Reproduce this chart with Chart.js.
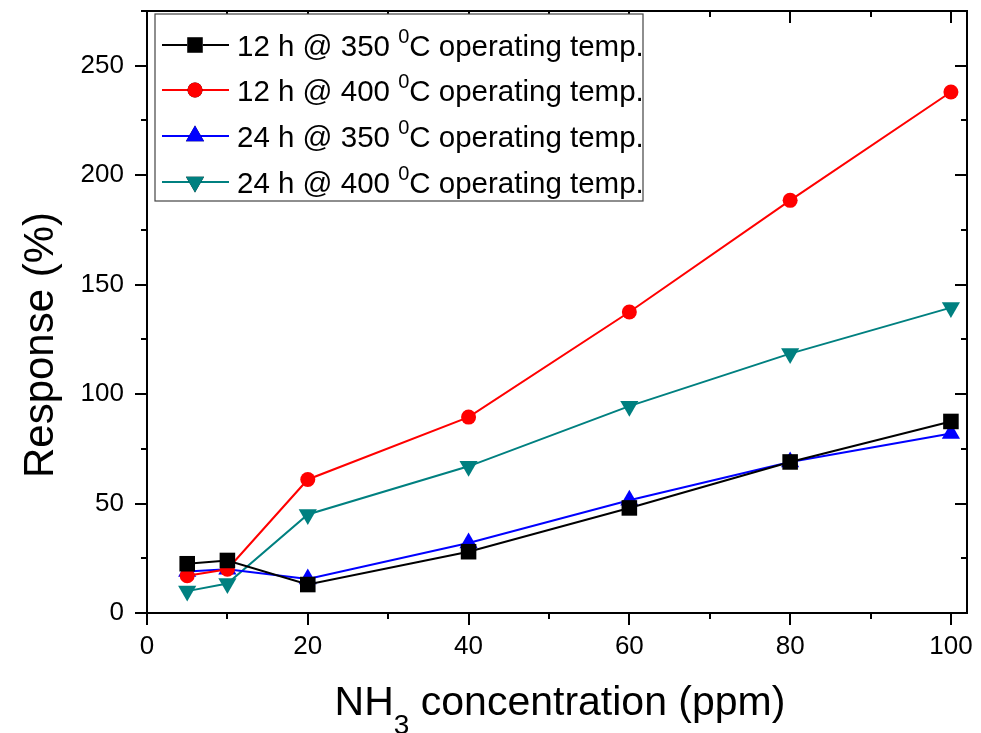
<!DOCTYPE html>
<html>
<head>
<meta charset="utf-8">
<script src="https://cdn.jsdelivr.net/npm/chart.js@4.4.1/dist/chart.umd.min.js"></script>
<style>
  html, body { margin: 0; padding: 0; background: #fff; }
  #wrap { width: 981px; height: 733px; position: relative; }
</style>
</head>
<body>
<div id="wrap"><canvas id="chart" width="981" height="733"></canvas></div>
<script>
// dados
const concentracao = [5, 10, 20, 40, 60, 80, 100];
const h12_350 = [22.5, 24, 13, 28, 48, 69, 87.5];
const h12_400 = [17, 20, 61, 89.5, 137.5, 188.5, 238];
const h24_350 = [19, 20, 15.5, 32, 51.5, 69, 82];
const h24_400 = [10, 13.5, 45, 67, 94.5, 118.5, 139.5];

const xTicks = [0, 20, 40, 60, 80, 100];
const yTicks = [0, 50, 100, 150, 200, 250];
const legendLabels = [
    ['12 h @ 350 ', '0', 'C operating temp.'],
    ['12 h @ 400 ', '0', 'C operating temp.'],
    ['24 h @ 350 ', '0', 'C operating temp.'],
    ['24 h @ 400 ', '0', 'C operating temp.']
];

const FONT = '"Liberation Sans", Arial, sans-serif';

function pontos(valores) {
    return concentracao.map((x, i) => ({ x: x, y: valores[i] }));
}

function serie(valores, cor, estilo, raio, rot) {
    return {
        data: pontos(valores),
        borderColor: cor,
        backgroundColor: cor,
        borderWidth: 2,
        pointStyle: estilo,
        pointRadius: raio,
        pointHoverRadius: raio,
        pointRotation: rot || 0,
        pointBorderWidth: 0,
        tension: 0
    };
}

const datasets = [
    serie(h12_350, '#000000', 'rect', 11),
    serie(h12_400, '#ff0000', 'circle', 7.5),
    serie(h24_350, '#0000ff', 'triangle', 10.5),
    serie(h24_400, '#008080', 'triangle', 10.5, 180)
];

// moldura, ticks e textos extra
const moldura = {
    id: 'moldura',
    afterDraw(chart) {
        const ctx = chart.ctx;
        const a = chart.chartArea;
        const xs = chart.scales.x, ys = chart.scales.y;
        ctx.save();
        ctx.strokeStyle = '#000';
        ctx.lineWidth = 2;
        ctx.strokeRect(a.left, a.top, a.right - a.left, a.bottom - a.top);

        ctx.beginPath();
        for (let v = 0; v <= 100; v += 10) {
            const px = Math.round(xs.getPixelForValue(v));
            const len = v % 20 === 0 ? 12 : 6;
            ctx.moveTo(px, a.bottom); ctx.lineTo(px, a.bottom + len);
            ctx.moveTo(px, a.top); ctx.lineTo(px, a.top + len);
        }
        for (let v = 0; v <= 275; v += 25) {
            const py = Math.round(ys.getPixelForValue(v));
            const len = v % 50 === 0 ? 12 : 6;
            ctx.moveTo(a.left, py); ctx.lineTo(a.left - len, py);
            ctx.moveTo(a.right, py); ctx.lineTo(a.right - len, py);
        }
        ctx.stroke();

        // titulo eixo x com subscrito
        ctx.fillStyle = '#000';
        ctx.textBaseline = 'alphabetic';
        const big = '41px ' + FONT, small = '28px ' + FONT;
        ctx.font = big;
        const w1 = ctx.measureText('NH').width;
        const w3 = ctx.measureText(' concentration (ppm)').width;
        ctx.font = small;
        const w2 = ctx.measureText('3').width;
        let x0 = 560 - (w1 + w2 + w3) / 2;
        const by = 715;
        ctx.font = big; ctx.fillText('NH', x0, by);
        ctx.font = small; ctx.fillText('3', x0 + w1, by + 19);
        ctx.font = big; ctx.fillText(' concentration (ppm)', x0 + w1 + w2, by);

        // titulo eixo y
        ctx.save();
        ctx.translate(53, 345);
        ctx.rotate(-Math.PI / 2);
        ctx.font = '42px ' + FONT;
        ctx.textAlign = 'center';
        ctx.fillText('Response (%)', 0, 0);
        ctx.restore();

        // legenda
        const lx = 155, ly = 14, lw = 488, lh = 187;
        ctx.lineWidth = 1.2;
        ctx.strokeStyle = '#444';
        ctx.fillStyle = '#fff';
        ctx.fillRect(lx, ly, lw, lh);
        ctx.strokeRect(lx, ly, lw, lh);
        const rows = [45, 90, 136, 182];
        chart.data.datasets.forEach((ds, i) => {
            const cy = rows[i];
            ctx.strokeStyle = ds.borderColor;
            ctx.lineWidth = 2;
            ctx.beginPath();
            ctx.moveTo(162, cy); ctx.lineTo(229, cy);
            ctx.stroke();
            Chart.helpers.drawPoint(ctx, {
                pointStyle: ds.pointStyle,
                radius: ds.pointRadius,
                rotation: ds.pointRotation,
                borderWidth: 0
            }, 195, cy);
            ctx.fillStyle = ds.backgroundColor;
            ctx.fill();
            const p = legendLabels[i];
            ctx.fillStyle = '#000';
            const f1 = '29.5px ' + FONT, f2 = '20px ' + FONT;
            let tx = 237;
            const base = cy + 11;
            ctx.font = f1; ctx.fillText(p[0], tx, base); tx += ctx.measureText(p[0]).width;
            ctx.font = f2; ctx.fillText(p[1], tx, base - 13); tx += ctx.measureText(p[1]).width;
            ctx.font = f1; ctx.fillText(p[2], tx, base);
        });
        ctx.restore();
    }
};

new Chart(document.getElementById('chart'), {
    type: 'line',
    data: { datasets: datasets },
    options: {
        responsive: false,
        animation: false,
        layout: { padding: { top: 10, right: 14, left: 0, bottom: 0 } },
        plugins: { legend: { display: false }, tooltip: { enabled: false } },
        scales: {
            x: {
                type: 'linear',
                min: 0, max: 102,
                afterBuildTicks: s => { s.ticks = xTicks.map(v => ({ value: v })); },
                afterFit: s => { s.height = 120; s.paddingLeft = 0; s.paddingRight = 0; },
                grid: { display: false, drawTicks: false },
                border: { display: false },
                ticks: { color: '#000', font: { family: FONT, size: 26 }, padding: 18, maxRotation: 0 }
            },
            y: {
                min: 0, max: 275,
                afterBuildTicks: s => { s.ticks = yTicks.map(v => ({ value: v })); },
                afterFit: s => { s.width = 147; s.paddingTop = 0; s.paddingBottom = 0; },
                grid: { display: false, drawTicks: false },
                border: { display: false },
                ticks: { color: '#000', font: { family: FONT, size: 26 }, padding: 23 }
            }
        }
    },
    plugins: [moldura]
});
</script>
</body>
</html>
